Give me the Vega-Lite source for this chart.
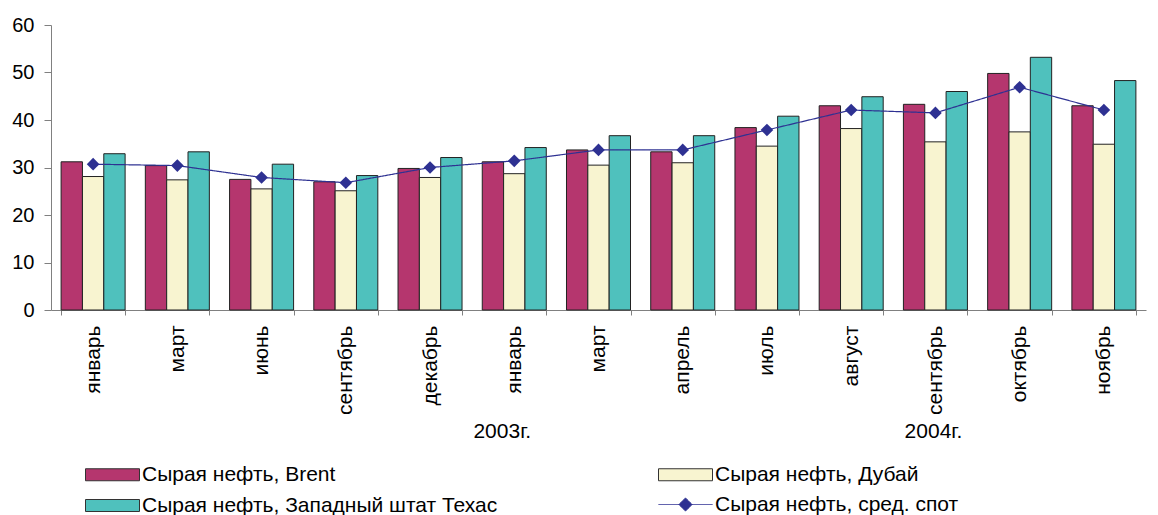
{
  "$schema": "https://vega.github.io/schema/vega-lite/v6.json",
  "width": 1095,
  "height": 285,
  "autosize": {"type": "none"},
  "padding": {"left": 51, "top": 25, "right": 12, "bottom": 205},
  "background": "white",
  "config": {
    "font": "Liberation Sans",
    "view": {"stroke": null},
    "axis": {"labelFont": "Liberation Sans", "labelColor": "#000000", "domainColor": "#808080", "tickColor": "#808080", "grid": false}
  },
  "datasets": {
    "bars": [
      {"k": "январь|2003", "s": "Сырая нефть, Brent", "v": 31.2},
      {"k": "январь|2003", "s": "Сырая нефть, Дубай", "v": 28.1},
      {"k": "январь|2003", "s": "Сырая нефть, Западный штат Техас", "v": 32.9},
      {"k": "март|2003", "s": "Сырая нефть, Brent", "v": 30.4},
      {"k": "март|2003", "s": "Сырая нефть, Дубай", "v": 27.4},
      {"k": "март|2003", "s": "Сырая нефть, Западный штат Техас", "v": 33.3},
      {"k": "июнь|2003", "s": "Сырая нефть, Brent", "v": 27.5},
      {"k": "июнь|2003", "s": "Сырая нефть, Дубай", "v": 25.5},
      {"k": "июнь|2003", "s": "Сырая нефть, Западный штат Техас", "v": 30.7},
      {"k": "сентябрь|2003", "s": "Сырая нефть, Brent", "v": 27.0},
      {"k": "сентябрь|2003", "s": "Сырая нефть, Дубай", "v": 25.1},
      {"k": "сентябрь|2003", "s": "Сырая нефть, Западный штат Техас", "v": 28.3},
      {"k": "декабрь|2003", "s": "Сырая нефть, Brent", "v": 29.8},
      {"k": "декабрь|2003", "s": "Сырая нефть, Дубай", "v": 27.9},
      {"k": "декабрь|2003", "s": "Сырая нефть, Западный штат Техас", "v": 32.1},
      {"k": "январь|2004", "s": "Сырая нефть, Brent", "v": 31.2},
      {"k": "январь|2004", "s": "Сырая нефть, Дубай", "v": 28.7},
      {"k": "январь|2004", "s": "Сырая нефть, Западный штат Техас", "v": 34.2},
      {"k": "март|2004", "s": "Сырая нефть, Brent", "v": 33.7},
      {"k": "март|2004", "s": "Сырая нефть, Дубай", "v": 30.5},
      {"k": "март|2004", "s": "Сырая нефть, Западный штат Техас", "v": 36.7},
      {"k": "апрель|2004", "s": "Сырая нефть, Brent", "v": 33.3},
      {"k": "апрель|2004", "s": "Сырая нефть, Дубай", "v": 31.0},
      {"k": "апрель|2004", "s": "Сырая нефть, Западный штат Техас", "v": 36.7},
      {"k": "июль|2004", "s": "Сырая нефть, Brent", "v": 38.4},
      {"k": "июль|2004", "s": "Сырая нефть, Дубай", "v": 34.5},
      {"k": "июль|2004", "s": "Сырая нефть, Западный штат Техас", "v": 40.8},
      {"k": "август|2004", "s": "Сырая нефть, Brent", "v": 43.0},
      {"k": "август|2004", "s": "Сырая нефть, Дубай", "v": 38.2},
      {"k": "август|2004", "s": "Сырая нефть, Западный штат Техас", "v": 44.9},
      {"k": "сентябрь|2004", "s": "Сырая нефть, Brent", "v": 43.3},
      {"k": "сентябрь|2004", "s": "Сырая нефть, Дубай", "v": 35.4},
      {"k": "сентябрь|2004", "s": "Сырая нефть, Западный штат Техас", "v": 46.0},
      {"k": "октябрь|2004", "s": "Сырая нефть, Brent", "v": 49.8},
      {"k": "октябрь|2004", "s": "Сырая нефть, Дубай", "v": 37.5},
      {"k": "октябрь|2004", "s": "Сырая нефть, Западный штат Техас", "v": 53.2},
      {"k": "ноябрь|2004", "s": "Сырая нефть, Brent", "v": 43.0},
      {"k": "ноябрь|2004", "s": "Сырая нефть, Дубай", "v": 34.9},
      {"k": "ноябрь|2004", "s": "Сырая нефть, Западный штат Техас", "v": 48.3}
    ],
    "spot": [
      {"k": "январь|2003", "s": "Сырая нефть, сред. спот", "v": 30.7},
      {"k": "март|2003", "s": "Сырая нефть, сред. спот", "v": 30.4},
      {"k": "июнь|2003", "s": "Сырая нефть, сред. спот", "v": 27.9},
      {"k": "сентябрь|2003", "s": "Сырая нефть, сред. спот", "v": 26.8},
      {"k": "декабрь|2003", "s": "Сырая нефть, сред. спот", "v": 30.0},
      {"k": "январь|2004", "s": "Сырая нефть, сред. спот", "v": 31.4},
      {"k": "март|2004", "s": "Сырая нефть, сред. спот", "v": 33.7},
      {"k": "апрель|2004", "s": "Сырая нефть, сред. спот", "v": 33.7},
      {"k": "июль|2004", "s": "Сырая нефть, сред. спот", "v": 37.9},
      {"k": "август|2004", "s": "Сырая нефть, сред. спот", "v": 42.1},
      {"k": "сентябрь|2004", "s": "Сырая нефть, сред. спот", "v": 41.5},
      {"k": "октябрь|2004", "s": "Сырая нефть, сред. спот", "v": 46.9},
      {"k": "ноябрь|2004", "s": "Сырая нефть, сред. спот", "v": 42.1}
    ]
  },
  "encoding": {
    "x": {
      "field": "k",
      "type": "nominal",
      "scale": {
        "domain": ["январь|2003", "март|2003", "июнь|2003", "сентябрь|2003", "декабрь|2003", "январь|2004", "март|2004", "апрель|2004", "июль|2004", "август|2004", "сентябрь|2004", "октябрь|2004", "ноябрь|2004"],
        "paddingInner": 0.24,
        "paddingOuter": 0.12
      },
      "axis": {
        "title": null,
        "labelAngle": -90,
        "labelFontSize": 21,
        "labelPadding": 10,
        "tickSize": 5,
        "tickBand": "extent",
        "labelExpr": "split(datum.label, '|')[0]"
      }
    },
    "y": {
      "field": "v",
      "type": "quantitative",
      "scale": {"domain": [0, 60], "nice": false},
      "axis": {"title": null, "values": [0, 10, 20, 30, 40, 50, 60], "labelFontSize": 20, "tickSize": 7, "labelPadding": 10}
    }
  },
  "layer": [
    {
      "data": {"name": "bars"},
      "mark": {"type": "bar", "stroke": "#222222", "strokeWidth": 1},
      "encoding": {
        "xOffset": {"field": "s", "type": "nominal", "scale": {"domain": ["Сырая нефть, Brent", "Сырая нефть, Дубай", "Сырая нефть, Западный штат Техас"], "paddingInner": 0, "paddingOuter": 0}},
        "color": {
          "field": "s",
          "type": "nominal",
          "scale": {
            "domain": ["Сырая нефть, Brent", "Сырая нефть, Дубай", "Сырая нефть, Западный штат Техас"],
            "range": ["#b5366e", "#f8f4d0", "#4fc1bd"]
          },
          "legend": {
            "title": null,
            "orient": "none",
            "direction": "horizontal",
            "legendX": 51,
            "legendY": 439,
            "columns": 2,
            "columnPadding": 158,
            "rowPadding": 9,
            "padding": 0,
            "symbolSize": 144,
            "symbolType": "M-4.5,-1H4.5V1H-4.5Z",
            "symbolStrokeWidth": 1,
            "symbolStrokeColor": "#333333",
            "symbolOpacity": 1,
            "labelFont": "Liberation Sans",
            "labelFontSize": 21,
            "labelColor": "#000000",
            "labelOffset": 19,
            "labelLimit": 0
          }
        }
      }
    },
    {
      "data": {"name": "spot"},
      "mark": {"type": "line", "strokeWidth": 1.2, "color": "#2e3192"},
      "encoding": {
        "strokeDash": {
          "field": "s",
          "type": "nominal",
          "scale": {"domain": ["Сырая нефть, сред. спот"], "range": [[1, 0]]},
          "legend": {
            "title": null,
            "orient": "none",
            "legendX": 624,
            "legendY": 469,
            "padding": 0,
            "symbolSize": 144,
            "symbolType": "M-4.5,0H4.5M0,-1.1L1.1,0L0,1.1L-1.1,0Z",
            "symbolStrokeWidth": 1,
            "symbolStrokeColor": "#2e3192",
            "symbolFillColor": "#2e3192",
            "symbolOpacity": 1,
            "labelFont": "Liberation Sans",
            "labelFontSize": 21,
            "labelColor": "#000000",
            "labelOffset": 19,
            "labelLimit": 0
          }
        }
      }
    },
    {
      "data": {"name": "spot"},
      "mark": {"type": "point", "shape": "diamond", "filled": true, "size": 160, "opacity": 1, "color": "#2e3192"}
    },
    {
      "data": {"values": [{"k": "январь|2004", "t": "2003г.", "y": -25.7}]},
      "mark": {"type": "text", "fontSize": 21, "font": "Liberation Sans", "color": "#000000", "baseline": "middle", "align": "center", "dx": -12},
      "encoding": {"y": {"field": "y", "type": "quantitative"}, "text": {"field": "t"}}
    },
    {
      "data": {"values": [{"k": "сентябрь|2004", "t": "2004г.", "y": -25.7}]},
      "mark": {"type": "text", "fontSize": 21, "font": "Liberation Sans", "color": "#000000", "baseline": "middle", "align": "center", "dx": -2},
      "encoding": {"y": {"field": "y", "type": "quantitative"}, "text": {"field": "t"}}
    }
  ]
}
